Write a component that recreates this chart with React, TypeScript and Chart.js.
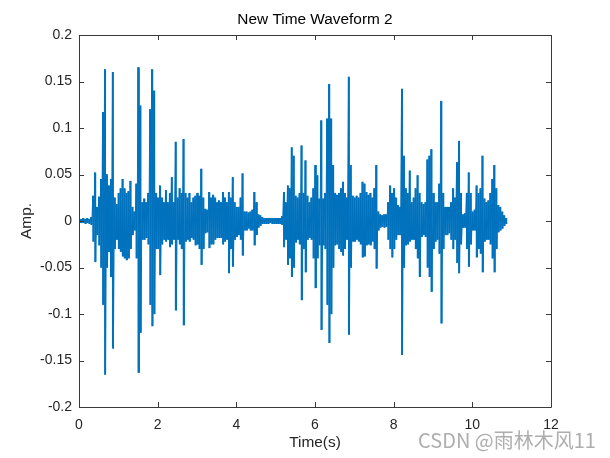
import React, { useEffect, useRef } from 'react';
import { Chart, registerables } from 'chart.js';

Chart.register(...registerables);

// ---------- data ----------
const TITLE = 'New Time Waveform 2';
const X_LABEL = 'Time(s)';
const Y_LABEL = 'Amp.';
const WATERMARK = 'CSDN @雨林木风11';

// envelope samples every 0.05 s, starting at 0 s
const SAMPLE_INTERVAL = 0.05;

const upperEnvelope = [
  // 0.00 - 0.95
  0.002, 0.002, 0.003, 0.002, 0.003, 0.002, 0.004, 0.027, 0.052, 0.015,
  0.026, 0.045, 0.117, 0.163, 0.05, 0.038, 0.045, 0.16, 0.025, 0.018,
  // 1.00 - 1.95
  0.03, 0.035, 0.045, 0.035, 0.03, 0.032, 0.043, 0.015, 0.01, 0.04,
  0.165, 0.124, 0.02, 0.024, 0.02, 0.03, 0.12, 0.163, 0.14, 0.03,
  // 2.00 - 2.95
  0.025, 0.038, 0.025, 0.02, 0.033, 0.02, 0.03, 0.047, 0.02, 0.085,
  0.025, 0.035, 0.03, 0.088, 0.03, 0.025, 0.03, 0.02, 0.025, 0.027,
  // 3.00 - 3.95
  0.03, 0.027, 0.056, 0.025, 0.013, 0.012, 0.031, 0.025, 0.028, 0.025,
  0.02, 0.022, 0.02, 0.031, 0.025, 0.02, 0.031, 0.025, 0.047, 0.02,
  // 4.00 - 4.95
  0.015, 0.015, 0.025, 0.051, 0.01, 0.01, 0.009, 0.01, 0.012, 0.031,
  0.02, 0.007, 0.006, 0.004, 0.003, 0.003, 0.003, 0.003, 0.003, 0.003,
  // 5.00 - 5.95
  0.003, 0.003, 0.003, 0.005, 0.031, 0.02, 0.038, 0.035, 0.079, 0.07,
  0.027, 0.025, 0.03, 0.081, 0.03, 0.065, 0.027, 0.02, 0.025, 0.035,
  // 6.00 - 6.95
  0.06, 0.049, 0.024, 0.108, 0.024, 0.03, 0.11, 0.147, 0.11, 0.06,
  0.03, 0.028, 0.03, 0.035, 0.042, 0.03, 0.025, 0.155, 0.06, 0.027,
  // 7.00 - 7.95
  0.025, 0.027, 0.025, 0.03, 0.042, 0.04, 0.031, 0.028, 0.03, 0.025,
  0.035, 0.06, 0.01, 0.007, 0.006, 0.007, 0.007, 0.02, 0.038, 0.03,
  // 8.00 - 8.95
  0.035, 0.025, 0.017, 0.015, 0.142, 0.07, 0.035, 0.03, 0.054, 0.02,
  0.025, 0.035, 0.049, 0.03, 0.02, 0.018, 0.02, 0.066, 0.07, 0.077,
  // 9.00 - 9.95
  0.03, 0.02, 0.02, 0.04, 0.129, 0.03, 0.015, 0.015, 0.015, 0.02,
  0.035, 0.025, 0.063, 0.086, 0.03, 0.007, 0.008, 0.03, 0.052, 0.03,
  // 10.00 - 10.85
  0.01, 0.012, 0.038, 0.03, 0.035, 0.07, 0.024, 0.02, 0.022, 0.03,
  0.045, 0.06, 0.035, 0.017, 0.015, 0.01, 0.006, 0.003,
];

const lowerEnvelope = [
  // 0.00 - 0.95
  -0.002, -0.002, -0.002, -0.003, -0.002, -0.003, -0.004, -0.022, -0.044, -0.015,
  -0.026, -0.05, -0.09, -0.165, -0.05, -0.033, -0.06, -0.137, -0.03, -0.02,
  // 1.00 - 1.95
  -0.03, -0.033, -0.038, -0.04, -0.042, -0.04, -0.03, -0.015, -0.01, -0.04,
  -0.163, -0.12, -0.02, -0.02, -0.018, -0.025, -0.09, -0.113, -0.1, -0.03,
  // 2.00 - 2.95
  -0.03, -0.058, -0.025, -0.02, -0.022, -0.02, -0.028, -0.025, -0.02, -0.096,
  -0.02, -0.025, -0.03, -0.112, -0.022, -0.02, -0.022, -0.018, -0.02, -0.026,
  // 3.00 - 3.95
  -0.025, -0.03, -0.047, -0.03, -0.013, -0.012, -0.029, -0.025, -0.025, -0.02,
  -0.018, -0.018, -0.018, -0.025, -0.022, -0.02, -0.056, -0.03, -0.049, -0.02,
  // 4.00 - 4.95
  -0.017, -0.015, -0.02, -0.037, -0.01, -0.01, -0.008, -0.01, -0.01, -0.026,
  -0.015, -0.007, -0.005, -0.003, -0.003, -0.003, -0.003, -0.002, -0.003, -0.003,
  // 5.00 - 5.95
  -0.003, -0.003, -0.003, -0.004, -0.028, -0.02, -0.047, -0.04, -0.06, -0.05,
  -0.023, -0.02, -0.025, -0.085, -0.03, -0.055, -0.02, -0.018, -0.02, -0.04,
  // 6.00 - 6.95
  -0.072, -0.04, -0.026, -0.117, -0.026, -0.03, -0.09, -0.131, -0.1, -0.05,
  -0.026, -0.025, -0.03, -0.033, -0.037, -0.03, -0.02, -0.122, -0.05, -0.022,
  // 7.00 - 7.95
  -0.022, -0.02, -0.022, -0.025, -0.039, -0.038, -0.026, -0.025, -0.026, -0.022,
  -0.03, -0.051, -0.01, -0.007, -0.006, -0.007, -0.006, -0.02, -0.03, -0.039,
  // 8.00 - 8.95
  -0.03, -0.02, -0.015, -0.015, -0.144, -0.05, -0.026, -0.025, -0.022, -0.02,
  -0.02, -0.03, -0.04, -0.06, -0.017, -0.015, -0.017, -0.05, -0.06, -0.076,
  // 9.00 - 9.95
  -0.03, -0.022, -0.02, -0.035, -0.11, -0.03, -0.015, -0.015, -0.013, -0.02,
  -0.03, -0.02, -0.045, -0.056, -0.025, -0.007, -0.007, -0.03, -0.049, -0.025,
  // 10.00 - 10.85
  -0.01, -0.01, -0.039, -0.03, -0.035, -0.055, -0.022, -0.02, -0.02, -0.025,
  -0.04, -0.055, -0.03, -0.012, -0.01, -0.008, -0.005, -0.003,
];

const xTickValues = [0, 2, 4, 6, 8, 10, 12];
const xTickLabels = ['0', '2', '4', '6', '8', '10', '12'];
const yTickValues = [-0.2, -0.15, -0.1, -0.05, 0, 0.05, 0.1, 0.15, 0.2];
const yTickLabels = ['-0.2', '-0.15', '-0.1', '-0.05', '0', '0.05', '0.1', '0.15', '0.2'];

// ---------- styles ----------
const FONT_FAMILY = "'Liberation Sans', Arial, Helvetica, sans-serif";
const LINE_COLOR = '#0072BD';
const AXIS_COLOR = '#262626';
const FRAME_COLOR = '#3a3a3a';
const TICK_LEN = 5;
const TICK_FONT_SIZE = 14;
const LABEL_FONT_SIZE = 15.4;

const matlabFrame = {
  id: 'matlabFrame',
  afterDatasetsDraw(chart: any) {
    const { ctx, chartArea, scales } = chart;
    const { left, right, top, bottom } = chartArea;
    ctx.save();
    ctx.strokeStyle = FRAME_COLOR;
    ctx.lineWidth = 1;
    ctx.beginPath();
    ctx.rect(Math.round(left) + 0.5, Math.round(top) + 0.5, Math.round(right - left), Math.round(bottom - top));
    ctx.stroke();
    ctx.beginPath();
    scales.x.ticks.forEach((t: any) => {
      const px = Math.round(scales.x.getPixelForValue(t.value)) + 0.5;
      ctx.moveTo(px, bottom);
      ctx.lineTo(px, bottom - TICK_LEN);
      ctx.moveTo(px, top);
      ctx.lineTo(px, top + TICK_LEN);
    });
    scales.y.ticks.forEach((t: any) => {
      const py = Math.round(scales.y.getPixelForValue(t.value)) + 0.5;
      ctx.moveTo(left, py);
      ctx.lineTo(left + TICK_LEN, py);
      ctx.moveTo(right, py);
      ctx.lineTo(right - TICK_LEN, py);
    });
    ctx.stroke();
    // title centred over the axes
    ctx.fillStyle = '#000000';
    ctx.font = `${LABEL_FONT_SIZE}px ${FONT_FAMILY}`;
    ctx.textAlign = 'center';
    ctx.textBaseline = 'middle';
    ctx.fillText(TITLE, (left + right) / 2, top - 15);
    ctx.restore();
  },
};

export default function App() {
  const ref = useRef<HTMLCanvasElement | null>(null);

  useEffect(() => {
    if (!ref.current) return;
    const zigzag: { x: number; y: number }[] = [];
    const spans: { x: number; y: [number, number] }[] = [];
    for (let i = 0; i < upperEnvelope.length; i++) {
      const t = i * SAMPLE_INTERVAL;
      zigzag.push({ x: t, y: upperEnvelope[i] });
      zigzag.push({ x: t + SAMPLE_INTERVAL / 2, y: lowerEnvelope[i] });
      spans.push({ x: t + SAMPLE_INTERVAL / 4, y: [lowerEnvelope[i], upperEnvelope[i]] });
    }
    const tickFont = { family: FONT_FAMILY, size: TICK_FONT_SIZE };
    const labelFont = { family: FONT_FAMILY, size: LABEL_FONT_SIZE };
    const chart = new Chart(ref.current, {
      type: 'bar',
      data: {
        datasets: [
          {
            type: 'bar',
            data: spans,
            backgroundColor: LINE_COLOR,
            borderWidth: 0,
            barPercentage: 0.8,
            categoryPercentage: 1,
            inflateAmount: 0.2,
          },
          {
            type: 'line',
            data: zigzag,
            borderColor: LINE_COLOR,
            borderWidth: 1,
            pointRadius: 0,
            tension: 0,
            fill: false,
          },
        ],
      },
      options: {
        animation: false,
        responsive: false,
        devicePixelRatio: 1,
        layout: { padding: { left: 0, right: 59, top: 35, bottom: 0 } },
        plugins: {
          legend: { display: false },
          tooltip: { enabled: false },
          title: { display: false },
        },
        scales: {
          x: {
            type: 'linear',
            min: 0,
            max: 12,
            offset: false,
            afterBuildTicks: (s: any) => {
              s.ticks = xTickValues.map((v) => ({ value: v }));
            },
            afterFit: (s: any) => {
              s.height = 51;
            },
            ticks: {
              callback: (_v: any, i: number) => xTickLabels[i],
              color: AXIS_COLOR,
              font: tickFont,
              padding: 10,
              maxRotation: 0,
              autoSkip: false,
            },
            grid: { display: false, drawTicks: false },
            border: { display: false },
            title: {
              display: true,
              text: X_LABEL,
              color: AXIS_COLOR,
              font: labelFont,
              padding: { top: 0, bottom: 5.8 },
            },
          },
          y: {
            type: 'linear',
            min: -0.2,
            max: 0.2,
            afterBuildTicks: (s: any) => {
              s.ticks = yTickValues.map((v) => ({ value: v }));
            },
            afterFit: (s: any) => {
              s.width = 79;
            },
            ticks: {
              callback: (_v: any, i: number) => yTickLabels[i],
              color: AXIS_COLOR,
              font: tickFont,
              padding: 7,
              autoSkip: false,
            },
            grid: { display: false, drawTicks: false },
            border: { display: false },
            title: {
              display: true,
              text: Y_LABEL,
              color: AXIS_COLOR,
              font: labelFont,
              padding: { top: 17.8, bottom: 0 },
            },
          },
        },
      },
      plugins: [matlabFrame],
    } as any);
    return () => chart.destroy();
  }, []);

  return (
    <div style={{ position: 'fixed', left: 0, top: 0, width: 610, height: 458, background: '#ffffff' }}>
      <canvas ref={ref} width={610} height={458} style={{ width: 610, height: 458, display: 'block' }} />
      <div
        style={{
          position: 'absolute',
          left: 418,
          top: 427,
          fontFamily: "'Noto Sans CJK SC', 'Noto Sans', sans-serif",
          fontSize: 20,
          lineHeight: '26px',
          color: 'rgba(160,160,160,0.85)',
          whiteSpace: 'nowrap',
        }}
      >
        {WATERMARK}
      </div>
    </div>
  );
}
